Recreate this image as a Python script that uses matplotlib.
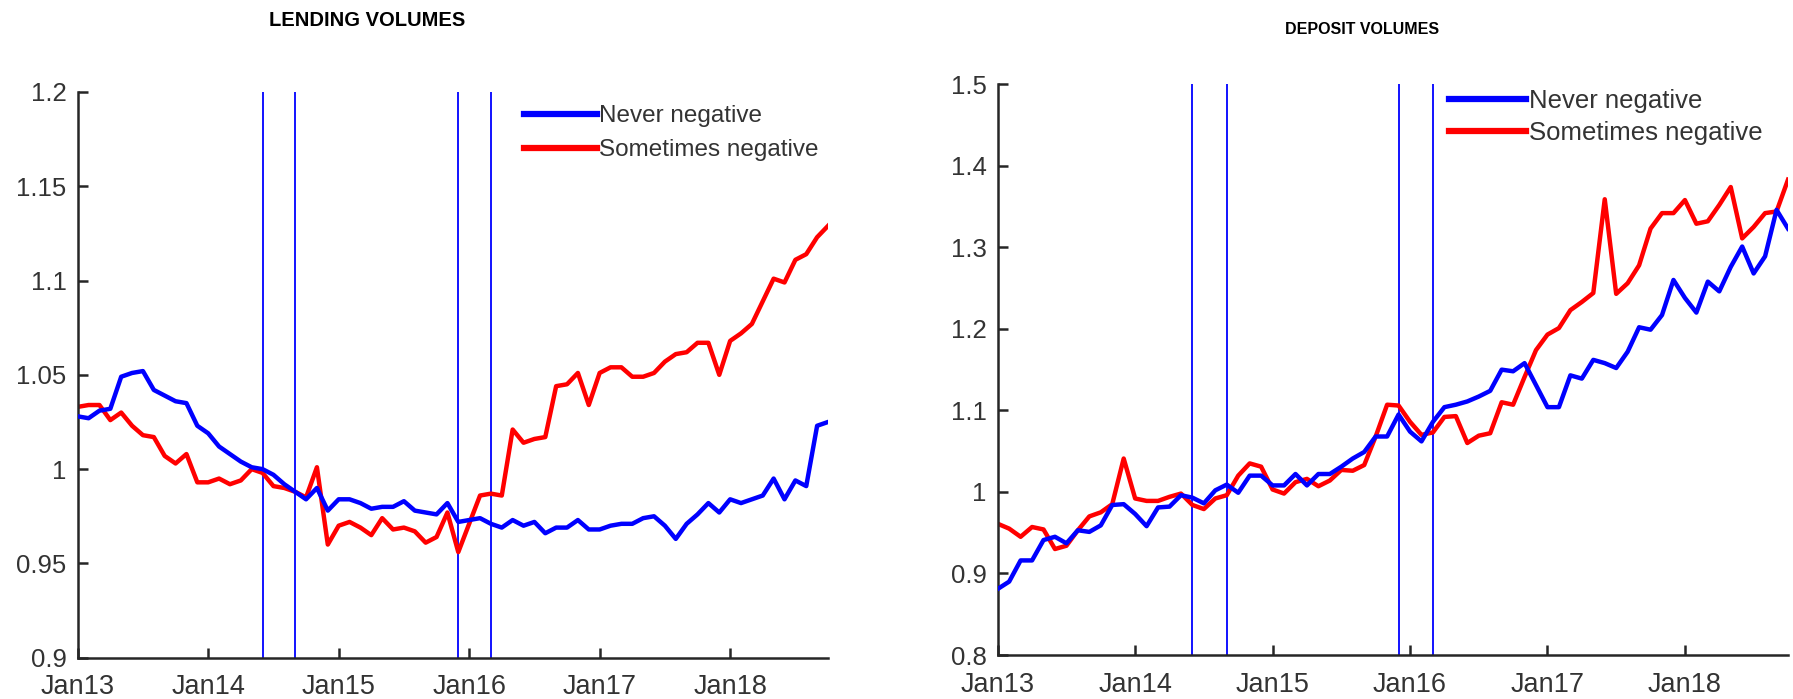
import matplotlib
matplotlib.use("Agg")
import matplotlib.pyplot as plt
import numpy as np

plt.rcParams['font.family'] = ['Liberation Sans', 'DejaVu Sans']

# ---- data (monthly, Jan 2013 = month 0 ... Oct 2018 = month 69) ----
tick_labels = ["Jan13", "Jan14", "Jan15", "Jan16", "Jan17", "Jan18"]
tick_months = [0, 12, 24, 36, 48, 60]
event_months = [17, 20, 35, 38]  # Jun14, Sep14, Dec15, Mar16

lending_never = [
    1.028, 1.027, 1.031, 1.032, 1.049, 1.051, 1.052, 1.042, 1.039, 1.036,
    1.035, 1.023, 1.019, 1.012, 1.008, 1.004, 1.001, 1.000, 0.997, 0.992,
    0.988, 0.984, 0.990, 0.978, 0.984, 0.984, 0.982, 0.979, 0.980, 0.980,
    0.983, 0.978, 0.977, 0.976, 0.982, 0.972, 0.973, 0.974, 0.971, 0.969,
    0.973, 0.970, 0.972, 0.966, 0.969, 0.969, 0.973, 0.968, 0.968, 0.970,
    0.971, 0.971, 0.974, 0.975, 0.970, 0.963, 0.971, 0.976, 0.982, 0.977,
    0.984, 0.982, 0.984, 0.986, 0.995, 0.984, 0.994, 0.991, 1.023, 1.025,
]
lending_sometimes = [
    1.033, 1.034, 1.034, 1.026, 1.030, 1.023, 1.018, 1.017, 1.007, 1.003,
    1.008, 0.993, 0.993, 0.995, 0.992, 0.994, 1.000, 0.998, 0.991, 0.990,
    0.988, 0.985, 1.001, 0.960, 0.970, 0.972, 0.969, 0.965, 0.974, 0.968,
    0.969, 0.967, 0.961, 0.964, 0.977, 0.956, 0.971, 0.986, 0.987, 0.986,
    1.021, 1.014, 1.016, 1.017, 1.044, 1.045, 1.051, 1.034, 1.051, 1.054,
    1.054, 1.049, 1.049, 1.051, 1.057, 1.061, 1.062, 1.067, 1.067, 1.050,
    1.068, 1.072, 1.077, 1.089, 1.101, 1.099, 1.111, 1.114, 1.123, 1.129,
]
deposit_never = [
    0.881, 0.890, 0.916, 0.916, 0.941, 0.945, 0.937, 0.953, 0.951, 0.959,
    0.984, 0.985, 0.973, 0.958, 0.981, 0.982, 0.996, 0.993, 0.986, 1.002,
    1.009, 0.999, 1.020, 1.020, 1.008, 1.008, 1.022, 1.008, 1.022, 1.022,
    1.031, 1.041, 1.049, 1.068, 1.068, 1.095, 1.074, 1.062, 1.086, 1.104,
    1.107, 1.111, 1.117, 1.124, 1.150, 1.148, 1.158, 1.131, 1.104, 1.104,
    1.143, 1.139, 1.162, 1.158, 1.152, 1.172, 1.202, 1.199, 1.217, 1.260,
    1.238, 1.220, 1.258, 1.246, 1.276, 1.301, 1.268, 1.289, 1.346, 1.323,
]
deposit_sometimes = [
    0.961, 0.955, 0.945, 0.957, 0.954, 0.930, 0.934, 0.953, 0.970, 0.975,
    0.985, 1.041, 0.992, 0.989, 0.989, 0.994, 0.998, 0.984, 0.979, 0.992,
    0.996, 1.020, 1.035, 1.031, 1.003, 0.998, 1.012, 1.016, 1.007, 1.014,
    1.027, 1.026, 1.033, 1.068, 1.107, 1.106, 1.086, 1.070, 1.073, 1.092,
    1.093, 1.060, 1.069, 1.072, 1.110, 1.107, 1.141, 1.174, 1.193, 1.201,
    1.223, 1.233, 1.244, 1.359, 1.243, 1.256, 1.278, 1.323, 1.342, 1.342,
    1.358, 1.329, 1.332, 1.352, 1.374, 1.311, 1.325, 1.342, 1.344, 1.383,
]

series_labels = ["Never negative", "Sometimes negative"]
lending_yticks = [0.9, 0.95, 1.0, 1.05, 1.1, 1.15, 1.2]
deposit_yticks = [0.8, 0.9, 1.0, 1.1, 1.2, 1.3, 1.4, 1.5]

W, H = 1793, 699
fig = plt.figure(figsize=(W / 100, H / 100), dpi=100)

TXT = '#333333'
SPINE = '#262626'


def setup(ax, ylim, yticks):
    ax.set_xlim(0, 69)
    ax.set_ylim(*ylim)
    ax.set_yticks(yticks)
    ax.set_yticklabels([f"{v:g}" for v in yticks])
    ax.set_xticks(tick_months)
    ax.set_xticklabels(tick_labels)
    for s in ['top', 'right']:
        ax.spines[s].set_visible(False)
    for s in ['left', 'bottom']:
        ax.spines[s].set_linewidth(1.8)
        ax.spines[s].set_color(SPINE)
    ax.tick_params(direction='in', length=7, width=1.8, color=SPINE,
                   labelcolor=TXT)
    ax.tick_params(axis='y', pad=8, labelsize=18.5)
    ax.tick_params(axis='x', pad=12, labelsize=19.5)


def draw(ax, never, sometimes):
    x = np.arange(len(never))
    for m in event_months:
        ax.axvline(m, color='#0000ff', lw=1.3, zorder=1)
    ax.plot(x, never, color='#0000ff', lw=3.2, label=series_labels[0], zorder=3)
    ax.plot(x, sometimes, color='#ff0000', lw=3.2, label=series_labels[1], zorder=2)


# left: lending
ax1 = fig.add_axes([77.7 / W, 1 - 657.7 / H, 750.3 / W, 565.7 / H])
draw(ax1, lending_never, lending_sometimes)
setup(ax1, (0.9, 1.2), lending_yticks)
leg1 = ax1.legend(loc='upper left', bbox_to_anchor=(0.595, 0.977), frameon=False,
                  fontsize=17.5, handlelength=3.0, handletextpad=0.1,
                  borderpad=0, borderaxespad=0, labelspacing=0.5)
for t in leg1.get_texts():
    t.set_color(TXT)
for l in leg1.get_lines():
    l.set_linewidth(4.5)

# right: deposit
ax2 = fig.add_axes([997.7 / W, 1 - 655 / H, 790.3 / W, 570.7 / H])
draw(ax2, deposit_never, deposit_sometimes)
setup(ax2, (0.8, 1.5), deposit_yticks)
leg2 = ax2.legend(loc='upper left', bbox_to_anchor=(0.571, 0.992), frameon=False,
                  fontsize=18.5, handlelength=3.0, handletextpad=0.1,
                  borderpad=0, borderaxespad=0, labelspacing=0.33)
for t in leg2.get_texts():
    t.set_color(TXT)
for l in leg2.get_lines():
    l.set_linewidth(4.5)

fig.text(367 / W, 1 - 21 / H, "LENDING VOLUMES", ha='center', va='center',
         fontsize=14.5, fontweight='bold', color='black')
fig.text(1362 / W, 1 - 29 / H, "DEPOSIT VOLUMES", ha='center', va='center',
         fontsize=11.5, fontweight='bold', color='black')

fig.savefig("out.png", dpi=100)
